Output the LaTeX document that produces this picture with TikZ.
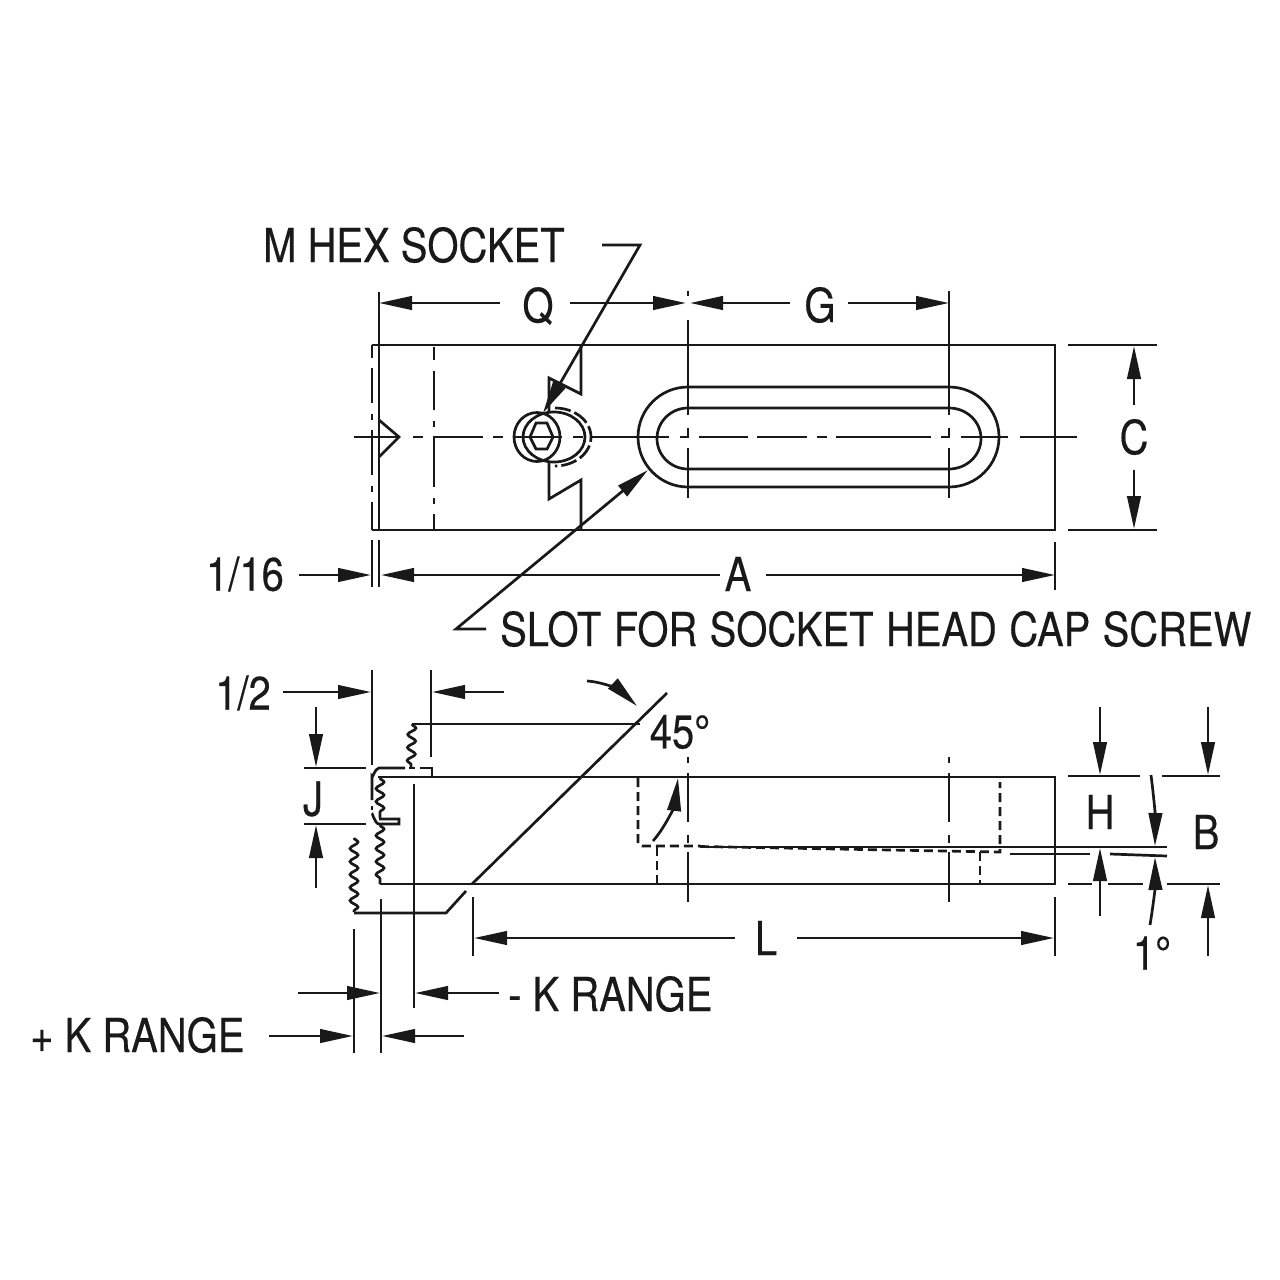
\documentclass[tikz,border=0pt]{standalone}
\usepackage{fontspec}
\setmainfont[FakeStretch=0.85,FakeBold=0.35]{TeX Gyre Heros}
\usetikzlibrary{arrows.meta,decorations.pathmorphing}
\tikzset{
  ln/.style={line width=2.7pt,color=black!90,line cap=butt},
  dim/.style={ln,-{Triangle[length=33pt,width=13.5pt]}},
  lbl/.style={inner sep=0pt,font=\fontsize{47}{47}\selectfont,text=black!90},
  hid/.style={ln,dash pattern=on 9pt off 5pt},
  wave/.style={ln,decorate,decoration={snake,segment length=13pt,amplitude=4pt}}
}
\begin{document}
\begin{tikzpicture}[x=1pt,y=-1pt]
\useasboundingbox[fill=white] (0,0) rectangle (1280,1280);
% ---------- top view
\draw[ln] (379,292)--(379,530);
\draw[ln] (372,530)--(1055,530)--(1055,345)--(372,345);
\foreach \a/\b in {345/358,368/403,414/420,430/475,486/492,502/530}{\draw[ln] (372,\a)--(372,\b);}
\foreach \a/\b in {347/360,371/410,421/427,437/487,498/504,514/530}{\draw[ln] (434,\a)--(434,\b);}
\draw[ln] (379,420)--(399,437)--(379,457);
\foreach \a/\b in {354/398,413/423,433/483,493/503,513/562,573/583,592/669,680/688,699/748,757/807,817/827,836/931,941/950,961/1008,1020/1077}{\draw[ln] (\a,437)--(\b,437);}
\draw[ln] (581,345)--(581,394)--(549,378)--(549,412);
\draw[ln] (549,462)--(549,499)--(581,480)--(581,530);
\draw[ln] (537,437) ellipse [x radius=23,y radius=24.5];
\draw[ln] (554,437) ellipse [x radius=31,y radius=25];
\draw[ln,dash pattern=on 16pt off 4pt] (555,408) arc[start angle=-90,end angle=90,x radius=36,y radius=29];
\draw[ln] (530,437)--(536,423)--(547,423)--(553,437)--(547,449)--(536,449)--cycle;
% slot
\draw[ln] (688,387)--(949,387) arc[start angle=-90,end angle=90,radius=50]--(688,487) arc[start angle=90,end angle=270,radius=50];
\draw[ln] (688,408)--(949,408) arc[start angle=-90,end angle=90,x radius=32,y radius=30.5]--(688,469) arc[start angle=90,end angle=270,x radius=31,y radius=30.5];
\foreach \x in {688,949}{
  \foreach \a/\b in {291/296,320/415,428/438,448/498}{\draw[ln] (\x,\a)--(\x,\b);}
}
\draw[ln] (949,296)--(949,320);
% dimensions top
\draw[dim] (500,303)--(379,303);
\draw[dim] (570,303)--(686,303);
\draw[dim] (790,303)--(690,303);
\draw[dim] (848,303)--(949,303);
\node[lbl] (q) at (538,306) {Q};
\node[lbl] (g) at (820,305) {G};
\draw[ln] (1068,345)--(1157,345);
\draw[ln] (1068,530)--(1157,530);
\draw[dim] (1134,405)--(1134,346);
\draw[dim] (1134,470)--(1134,529);
\node[lbl] (c) at (1134,437) {C};
\draw[ln] (372,540)--(372,587);
\draw[ln] (379,540)--(379,587);
\draw[ln] (1055,542)--(1055,590);
\draw[dim] (299,575)--(371,575);
\draw[dim] (720,575)--(381,575);
\draw[dim] (766,575)--(1055,575);
\node[lbl] (a) at (738,574) {A};
\node[lbl] (s116) at (245,574) {1/16};
\node[lbl,anchor=west] (mhex) at (263,245) {M HEX SOCKET};
\coordinate (mh1) at (602,245);
\coordinate (mh2) at (640,245);
\coordinate (mh3) at (543,413);
\draw[dim] (mh1)--(mh2)--(mh3);
\node[lbl,anchor=west] (slot) at (500,629) {\spaceskip=12.4pt SLOT FOR SOCKET HEAD CAP SCREW};
\coordinate (sl1) at (486,629);
\coordinate (sl2) at (456,629);
\coordinate (sl3) at (648,470);
\draw[dim] (sl1)--(sl2)--(sl3);
% ---------- side view
\draw[ln] (378,777)--(1055,777)--(1055,884)--(380,884);
\draw[hid,rounded corners=4pt] (638,778)--(638,846)--(700,846);
\draw[ln] (700,847)--(1167,847);
\draw[hid] (700,846.5)--(1000,852)--(1000,782);
\draw[hid] (657,847)--(657,884);
\draw[hid] (980,852)--(980,884);
\foreach \x in {688,949}{
  \foreach \a/\b in {757/763,773/822,835/843,852/902}{\draw[ln] (\x,\a)--(\x,\b);}
}
% left break
\draw[wave] (380,778)--(380,818);
\draw[wave] (380,825)--(380,884);
\draw[wave] (412,724)--(411,767);
\draw[wave] (354,838)--(354,912);
\draw[ln] (372,800)--(372,776) to[out=-90,in=180] (379,768)--(405,768);
\draw[ln] (409,768)--(415,768) (420,768)--(428,768);
\draw[ln] (423,768)--(432,768)--(432,777);
\draw[ln] (372,806)--(372,810);
\draw[ln] (372,815) to[out=90,in=180] (379,824)--(399,824)--(399,819)--(379,819);
\draw[ln] (412,724)--(640,724);
\draw[ln] (354,913)--(446,913)--(466,891);
\draw[ln] (667,693)--(472,884);
\draw[ln] (414,784)--(414,1008);
\draw[ln] (381,899)--(381,1053);
\draw[ln] (354,929)--(354,1053);
% dims
\draw[ln] (304,768)--(366,768);
\draw[ln] (304,824)--(366,824);
\draw[dim] (316,707)--(316,767);
\draw[dim] (316,888)--(316,825);
\node[lbl] (j) at (313,799) {J};
\draw[ln] (372,670)--(372,765);
\draw[ln] (431,670)--(431,757);
\draw[dim] (283,692)--(371,692);
\draw[dim] (504,692)--(432,692);
\node[lbl] (half) at (243,693) {1/2};
\draw[dim] (587,681) .. controls (605,682) and (622,692) .. (637,706);
\node[lbl] (d45) at (680,732) {45°};
\draw[dim] (653,841) .. controls (667,825) and (675,803) .. (678,778);
\draw[dim] (298,993)--(380,993);
\draw[dim] (499,993)--(415,993);
\node[lbl,anchor=west] (mk) at (508,994) {- K RANGE};
\draw[dim] (269,1036)--(353,1036);
\draw[dim] (464,1036)--(382,1036);
\node[lbl,anchor=west] (pk) at (30,1035) {+ K RANGE};
\draw[ln] (473,897)--(473,956);
\draw[ln] (1055,897)--(1055,956);
\draw[dim] (735,938)--(474,938);
\draw[dim] (797,938)--(1054,938);
\node[lbl] (l) at (766,938) {L};
% right dims
\draw[ln] (1010,854)--(1090,854);
\draw[ln] (1110,854)--(1167,856);
\draw[ln] (1068,776)--(1140,776);
\draw[ln] (1162,776)--(1220,776);
\draw[ln] (1068,884)--(1092,884) (1108,884)--(1143,884) (1167,884)--(1220,884);
\draw[dim] (1100,707)--(1100,775);
\draw[dim] (1100,916)--(1100,848);
\node[lbl] (h) at (1100,812) {H};
\draw[dim] (1208,707)--(1208,775);
\draw[dim] (1208,956)--(1208,885);
\node[lbl] (b) at (1206,832) {B};
\draw[dim] (1151,775) to[bend left=4] (1155,846);
\draw[dim] (1150,925) to[bend right=5] (1155,857);
\node[lbl] (one) at (1152,953) {1°};
\end{tikzpicture}
\end{document}
